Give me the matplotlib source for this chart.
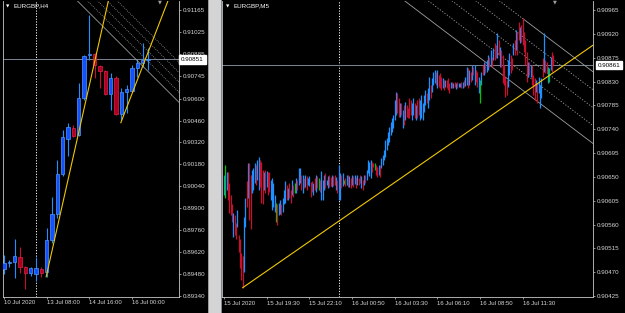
import numpy as np
import matplotlib.pyplot as plt
from matplotlib.patches import Rectangle
from matplotlib.transforms import blended_transform_factory

plt.rcParams['font.family'] = ['Liberation Sans', 'DejaVu Sans']

W, H = 625, 313

# EURGBP,H4 candles (10 Jul 00:00 .. 16 Jul)
h4_open = [0.89509, 0.89552, 0.89554, 0.89589, 0.89522, 0.89487, 0.89477, 0.89509,
           0.89493, 0.89696, 0.89862, 0.90118, 0.90340, 0.90414, 0.90367, 0.90602,
           0.90877, 0.90885, 0.90809, 0.90777, 0.90631, 0.90734, 0.90502, 0.90640,
           0.90651, 0.90794, 0.90826, 0.90847]
h4_high = [0.89600, 0.89568, 0.89701, 0.89653, 0.89530, 0.89525, 0.89586, 0.89522,
           0.89771, 0.89973, 0.90208, 0.90399, 0.90442, 0.90431, 0.90698, 0.90879,
           0.91135, 0.90890, 0.90815, 0.90783, 0.90762, 0.90745, 0.90666, 0.90687,
           0.90815, 0.90851, 0.90954, 0.90922]
h4_low = [0.89477, 0.89524, 0.89455, 0.89483, 0.89381, 0.89466, 0.89436, 0.89461,
          0.89458, 0.89679, 0.89837, 0.90105, 0.90233, 0.90357, 0.90361, 0.90591,
          0.90847, 0.90730, 0.90666, 0.90623, 0.90527, 0.90495, 0.90463, 0.90510,
          0.90644, 0.90736, 0.90804, 0.90783]
h4_close = [0.89551, 0.89556, 0.89594, 0.89522, 0.89487, 0.89517, 0.89515, 0.89487,
            0.89696, 0.89862, 0.90118, 0.90357, 0.90419, 0.90363, 0.90606, 0.90872,
            0.90885, 0.90815, 0.90777, 0.90631, 0.90734, 0.90502, 0.90640, 0.90660,
            0.90794, 0.90830, 0.90847, 0.90851]
h4_yticks = [0.89340, 0.89480, 0.89620, 0.89760, 0.89900, 0.90040, 0.90180,
             0.90320, 0.90460, 0.90600, 0.90745, 0.90885, 0.91025, 0.91165]
h4_xticks = [0, 8, 16, 24]
h4_xlabels = ['10 Jul 2020', '13 Jul 08:00', '14 Jul 16:00', '16 Jul 00:00']
h4_price = 0.90851
h4_separator = 6
h4_trend_a = ([7.9, 19.6], [0.89461, 0.91230])
h4_trend_b = ([21.9, 30.8], [0.90446, 0.91230])
h4_chan_base = ([13.6, 32.7], [0.91230, 0.90580])
h4_chan_shift = [1.9, 3.8, 5.6, 7.5]

# EURGBP,M5 bars, in points above 0.90000 (15 Jul 16:50 ..)
m5_high = [654, 673, 660, 660, 639, 616, 598, 582, 578, 563,
           588, 541, 532, 507, 500, 575, 611, 643, 677, 677,
           654, 664, 667, 677, 673, 682, 688, 682, 678, 664,
           660, 664, 662, 660, 660, 645, 648, 639, 616, 601,
           598, 601, 607, 598, 611, 626, 643, 635, 630, 639,
           626, 645, 635, 639, 648, 645, 667, 667, 654, 654,
           648, 654, 652, 648, 652, 641, 643, 639, 648, 654,
           652, 648, 645, 662, 645, 654, 658, 645, 652, 654,
           650, 654, 652, 654, 650, 645, 673, 658, 654, 658,
           645, 648, 654, 654, 652, 648, 654, 652, 654, 650,
           654, 648, 654, 652, 645, 654, 654, 664, 682, 678,
           682, 678, 677, 677, 673, 669, 673, 673, 686, 692,
           701, 720, 724, 735, 745, 754, 762, 767, 795, 811,
           809, 799, 790, 790, 777, 786, 792, 786, 780, 799,
           795, 790, 799, 790, 786, 795, 799, 795, 805, 790,
           805, 814, 809, 818, 839, 824, 837, 848, 852, 848,
           852, 843, 846, 839, 837, 833, 833, 833, 837, 827,
           829, 829, 827, 829, 827, 829, 827, 827, 829, 829,
           833, 839, 858, 856, 852, 848, 861, 858, 861, 852,
           848, 839, 833, 848, 861, 867, 865, 871, 880, 876,
           890, 876, 893, 903, 899, 922, 908, 895, 890, 880,
           861, 839, 833, 871, 884, 880, 875, 903, 908, 927,
           924, 942, 933, 937, 950, 924, 908, 886, 867, 867,
           861, 861, 843, 837, 833, 827, 839, 824, 837, 875,
           922, 871, 867, 858, 856, 876, 886, 880]
m5_low = [616, 611, 626, 607, 582, 578, 565, 537, 541, 532,
          556, 509, 479, 456, 441, 470, 556, 594, 611, 569,
          551, 620, 626, 639, 635, 645, 626, 631, 601, 598,
          626, 620, 631, 616, 622, 607, 588, 594, 584, 565,
          560, 578, 580, 578, 584, 598, 601, 607, 607, 611,
          601, 616, 613, 620, 620, 626, 635, 639, 626, 620,
          630, 631, 626, 635, 633, 613, 622, 616, 626, 622,
          630, 626, 622, 607, 607, 626, 630, 635, 630, 631,
          633, 631, 633, 635, 626, 620, 607, 607, 630, 633,
          637, 633, 635, 631, 631, 630, 635, 631, 637, 630,
          635, 635, 639, 630, 626, 635, 639, 645, 658, 652,
          648, 660, 669, 664, 654, 650, 654, 650, 667, 673,
          682, 688, 701, 711, 715, 730, 735, 743, 758, 767,
          771, 763, 763, 767, 743, 748, 758, 763, 762, 762,
          767, 758, 767, 762, 758, 762, 767, 758, 762, 758,
          773, 786, 790, 780, 795, 799, 811, 824, 827, 824,
          818, 820, 818, 814, 818, 814, 820, 818, 814, 809,
          818, 818, 818, 820, 816, 818, 820, 820, 818, 818,
          820, 822, 824, 818, 824, 829, 833, 843, 824, 829,
          820, 809, 790, 824, 843, 843, 846, 848, 852, 858,
          861, 858, 871, 871, 875, 875, 880, 858, 858, 827,
          824, 801, 805, 820, 843, 846, 852, 880, 880, 890,
          880, 908, 903, 905, 899, 886, 861, 829, 839, 843,
          839, 824, 805, 795, 811, 790, 809, 780, 799, 839,
          848, 846, 846, 827, 829, 852, 848, 861]
# 1 = up (blue), -1 = down (red), 0 = doji (green)
m5_dir = [1, 0, 1, -1, -1, -1, -1, 1, -1, -1,
          1, -1, -1, -1, -1, 1, 1, -1, 1, -1,
          -1, 1, 1, 1, -1, 1, 1, -1, -1, -1,
          1, -1, 1, -1, -1, 1, 1, 1, 1, 0,
          -1, 1, 1, -1, 1, 1, 1, -1, 1, -1,
          -1, 1, -1, 0, 1, -1, 1, 1, -1, 1,
          -1, 1, -1, 1, 1, -1, -1, 1, -1, 1,
          -1, 0, -1, 1, 1, 1, -1, 1, 1, -1,
          -1, 1, -1, -1, 1, -1, 1, 1, -1, 1,
          0, -1, 1, -1, 1, -1, 1, -1, 1, -1,
          1, -1, -1, 1, -1, 1, -1, 1, 1, 1,
          1, -1, -1, 0, -1, -1, 1, -1, 1, 1,
          1, 1, 1, 1, 1, 1, 1, 1, 1, 1,
          -1, -1, 1, -1, 1, -1, 1, -1, -1, -1,
          -1, 1, 1, -1, 1, -1, -1, 1, 1, 1,
          1, 1, -1, 1, 1, -1, 1, 1, 1, -1,
          1, -1, -1, -1, 1, -1, 1, -1, -1, -1,
          1, -1, 1, -1, 1, -1, 1, 1, -1, 1,
          -1, 1, 1, -1, 1, -1, 1, -1, 1, -1,
          -1, 1, 0, 1, -1, 1, -1, 1, 1, -1,
          1, -1, 1, -1, -1, 1, -1, 1, -1, -1,
          -1, -1, -1, 1, 1, -1, -1, 1, -1, 1,
          -1, -1, 1, -1, -1, -1, -1, -1, 1, -1,
          1, -1, -1, -1, 1, -1, 1, 1, 1, -1,
          1, -1, -1, 1, 0, 1, -1, -1]
m5_yticks = [0.90425, 0.90470, 0.90515, 0.90560, 0.90605, 0.90650, 0.90695,
             0.90740, 0.90785, 0.90830, 0.90875, 0.90920, 0.90965]
m5_xticks = [0, 32, 64, 96, 128, 160, 192, 224]
m5_xlabels = ['15 Jul 2020', '15 Jul 19:30', '15 Jul 22:10', '16 Jul 00:50',
              '16 Jul 03:30', '16 Jul 06:10', '16 Jul 08:50', '16 Jul 11:30']
m5_price = 0.90861
m5_separator = 86
m5_trend = ([14, 277], [0.90441, 0.90899])
m5_chan_upper = ([224, 277], [0.90949, 0.90848])
m5_chan_lower = ([143, 277], [0.90968, 0.90714])
m5_chan_levels = [0.25, 0.5, 0.75]

BLUE = '#1e90ff'
RED = '#c8102e'
GREEN = '#00c800'
GRID = '#c8c8c8'
TXT = '#d8d8d8'

fig = plt.figure(figsize=(W / 100, H / 100), dpi=100, facecolor='black')


def px_axes(x0, y0, x1, y1):
    return fig.add_axes([x0 / W, 1 - y1 / H, (x1 - x0) / W, (y1 - y0) / H])


def ray(ax, xs, ys, **kw):
    # extend a two-point line far to the right (clipped by the axes)
    k = (ys[1] - ys[0]) / (xs[1] - xs[0])
    ax.plot([xs[0], xs[0] + 400], [ys[0], ys[0] + k * 400], **kw)


def setup(ax, xlim, ylim, yticks, xticks, xlabels, price, sep):
    ax.set_facecolor('black')
    ax.set_xlim(*xlim)
    ax.set_ylim(*ylim)
    ax.yaxis.tick_right()
    ax.set_yticks(yticks)
    ax.set_yticklabels(['%.5f' % v for v in yticks])
    ax.set_xticks(xticks)
    ax.set_xticklabels(xlabels, ha='left')
    ax.tick_params(colors=GRID, labelcolor=TXT, labelsize=4.5, length=1.6,
                   width=0.5, pad=1.2)
    ax.tick_params(axis='x', labelsize=4.3)
    for s in ax.spines.values():
        s.set_color(GRID)
        s.set_linewidth(0.6)
    ax.spines['top'].set_visible(False)
    ax.axvline(sep, color='white', lw=0.7, ls=(0, (1.2, 1.6)))
    ax.axhline(price, color='#7a8794', lw=0.7)
    tr = blended_transform_factory(ax.transAxes, ax.transData)
    ax.text(1.012, price, '%.5f' % price, transform=tr, fontsize=4.5,
            color='black', va='center', ha='left', clip_on=False, zorder=10,
            bbox=dict(boxstyle='square,pad=0.3', fc='white', ec='white'))


# ---- left chart: H4 ----
ax1 = px_axes(3, 1, 179, 296.5)
setup(ax1, (-0.19, 32.81), (0.89335, 0.91224), h4_yticks, h4_xticks,
      h4_xlabels, h4_price, h4_separator)
o = np.array(h4_open)
c = np.array(h4_close)
idx = np.arange(len(o))
up = c >= o
ax1.vlines(idx, h4_low, h4_high, colors=np.where(up, BLUE, RED), lw=0.8)
body = np.maximum(np.abs(c - o), 0.00003)
ax1.bar(idx, body, bottom=np.minimum(o, c), width=0.62,
        color=np.where(up, '#1450ff', '#b00020'),
        edgecolor=np.where(up, '#4a9aff', '#e0204a'), lw=0.5, zorder=3)
ray(ax1, *h4_trend_a, color='#f0c800', lw=0.8, zorder=4)
ray(ax1, *h4_trend_b, color='#f0c800', lw=0.8, zorder=4)
bx, by = h4_chan_base
kb = (by[1] - by[0]) / (bx[1] - bx[0])
for n, sh in enumerate([0] + h4_chan_shift):
    xs = np.array([bx[0] - 10, bx[1] + 10]) + sh
    ys = by[0] + kb * (xs - sh - bx[0])
    ax1.plot(xs, ys, color='#9a9a9a', lw=0.6,
             ls='-' if n == 0 else (0, (1, 1.5)), zorder=2)

# ---- right chart: M5 ----
ax2 = px_axes(222, 1, 593.3, 296.7)
setup(ax2, (-1.5, 277), (0.90424, 0.90982), m5_yticks, m5_xticks,
      m5_xlabels, m5_price, m5_separator)
hi = 0.9 + np.array(m5_high) / 1e5
lo = 0.9 + np.array(m5_low) / 1e5
d = np.array(m5_dir)
cols = np.where(d > 0, BLUE, np.where(d < 0, RED, GREEN))
ax2.vlines(np.arange(len(hi)), lo, hi, colors=cols, lw=0.9, zorder=3)
ray(ax2, *m5_trend, color='#f0c800', lw=0.8, zorder=4)

ux, uy = m5_chan_upper
lx, ly = m5_chan_lower
ku = (uy[1] - uy[0]) / (ux[1] - ux[0])
xs = np.array([60.0, 290.0])
upper = uy[0] + ku * (xs - ux[0])
lower = ly[0] + ku * (xs - lx[0])
ax2.plot(xs, lower, color='#a0a0a0', lw=0.6, zorder=2)
ax2.plot([ux[0], 290], [uy[0], uy[0] + ku * (290 - ux[0])], color='#a0a0a0',
         lw=0.6, zorder=2)
ax2.plot([60, ux[0]], [uy[0] + ku * (60 - ux[0]), uy[0]], color='#a0a0a0',
         lw=0.6, ls=(0, (1.5, 2)), zorder=2)
for f in m5_chan_levels:
    ax2.plot(xs, upper + f * (lower - upper), color='#a0a0a0', lw=0.6,
             ls=(0, (1.5, 2)), zorder=2)

# ---- window chrome and captions ----
fig.add_artist(Rectangle((208 / W, 0), 14 / W, 1, transform=fig.transFigure,
                         fc='#d4d4d4', ec='none'))
fig.add_artist(Rectangle((208 / W, 0), 1.2 / W, 1, transform=fig.transFigure,
                         fc='#9a9a9a', ec='none'))
fig.add_artist(Rectangle((220.5 / W, 0), 1.2 / W, 1, transform=fig.transFigure,
                         fc='#7c8894', ec='none'))


def ftext(x, y, s, **kw):
    fig.text(x / W, 1 - y / H, s, va='center', **kw)


ftext(5.5, 6, '\u25bc', fontsize=3.2, color='white', family='DejaVu Sans')
ftext(14, 6, 'EURGBP,H4', fontsize=4.5, color='white')
ftext(225.5, 6, '\u25bc', fontsize=3.2, color='white', family='DejaVu Sans')
ftext(234, 6, 'EURGBP,M5', fontsize=4.5, color='white')
ftext(157.5, 2, '\u25bc', fontsize=3.6, color='#a0a0a0', family='DejaVu Sans')
ftext(553, 2, '\u25bc', fontsize=3.6, color='#a0a0a0', family='DejaVu Sans')

fig.savefig('out.png', dpi=100, facecolor='black')
